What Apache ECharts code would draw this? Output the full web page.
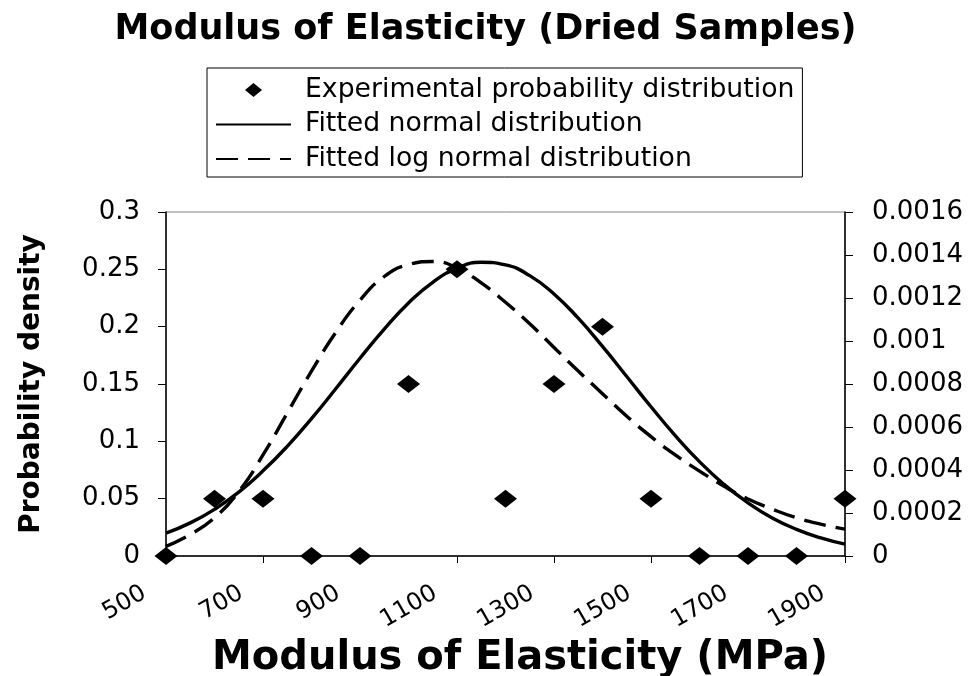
<!DOCTYPE html>
<html>
<head>
<meta charset="utf-8">
<script src="https://cdn.jsdelivr.net/npm/echarts@6/dist/echarts.min.js"></script>
<style>
html,body{margin:0;padding:0;background:#fff;}
#chart{width:971px;height:676px;}
</style>
</head>
<body>
<div id="chart"></div>
<script>
// ---- data ----
const titleText = 'Modulus of Elasticity (Dried Samples)';
const xAxisTitle = 'Modulus of Elasticity (MPa)';
const yAxisTitle = 'Probability density';
const seriesNames = ['Experimental probability distribution', 'Fitted normal distribution', 'Fitted log normal distribution'];

// experimental points (left axis)
const expX = [500, 600, 700, 800, 900, 1000, 1100, 1200, 1300, 1400, 1500, 1600, 1700, 1800, 1900];
const expY = [0, 0.05, 0.05, 0, 0, 0.15, 0.25, 0.05, 0.15, 0.2, 0.05, 0, 0, 0, 0.05];

// fitted curves (right axis), read every 50 MPa
const curveX = [500, 550, 600, 650, 700, 750, 800, 850, 900, 950, 1000, 1050, 1100, 1150, 1200,
                1250, 1300, 1350, 1400, 1450, 1500, 1550, 1600, 1650, 1700, 1750, 1800, 1850, 1900];
const normalY = [0.000106, 0.000154, 0.000217, 0.000297, 0.000396, 0.000510, 0.000639, 0.000778, 0.000920, 0.001055,
                 0.001177, 0.001273, 0.001338, 0.001366, 0.001354, 0.001304, 0.001219, 0.001106, 0.000975, 0.000835,
                 0.000694, 0.000560, 0.000439, 0.000334, 0.000247, 0.000177, 0.000124, 0.000084, 0.000055];
const logNormalY = [0.000045, 0.000100, 0.000178, 0.000300, 0.000470, 0.000665, 0.000860, 0.001040, 0.001190, 0.001300,
                    0.001355, 0.001370, 0.001340, 0.001270, 0.001180, 0.001080, 0.000970, 0.000860, 0.000755, 0.000650,
                    0.000555, 0.000470, 0.000395, 0.000325, 0.000265, 0.000218, 0.000178, 0.000148, 0.000125];

// axis ranges
const xRange = [500, 1900, 200];
const leftRange = [0, 0.3, 0.05];
const rightRange = [0, 0.0016, 0.0002];

// ---- build chart ----
const FONT = 'DejaVu Sans';
const chart = echarts.init(document.getElementById('chart'), null, {renderer: 'canvas'});

const expData = expX.map((x, i) => [x, expY[i]]);
const normalData = curveX.map((x, i) => [x, normalY[i]]);
const logData = curveX.map((x, i) => [x, logNormalY[i]]);

const diamondIcon = 'path://M8.5,0 L17,7 L8.5,14 L0,7 Z';
const hiddenMarker = {color: 'rgba(0,0,0,0)', borderColor: 'rgba(0,0,0,0)', borderWidth: 0};

const option = {
  backgroundColor: '#ffffff',
  animation: false,
  title: {
    text: titleText,
    left: 'center',
    top: 7,
    textStyle: {fontFamily: FONT, fontSize: 35, fontWeight: 'bold', color: '#000'}
  },
  legend: {
    orient: 'vertical',
    left: 207,
    top: 68,
    padding: [8, 8, 4, 8],
    itemGap: 6.5,
    itemWidth: 75,
    itemHeight: 14,
    itemTextGap: 15,
    symbolKeepAspect: true,
    borderColor: '#000',
    borderWidth: 1,
    textStyle: {fontFamily: FONT, fontSize: 26.7, color: '#000', lineHeight: 28, padding: [0, 0, 0, 9]},
    data: [
      {name: seriesNames[0], icon: diamondIcon},
      {name: seriesNames[1], itemStyle: hiddenMarker},
      {name: seriesNames[2], itemStyle: hiddenMarker}
    ]
  },
  grid: {
    left: 166, right: 126, top: 212, bottom: 120,
    outerBoundsMode: 'none',
    containLabel: false,
    show: true, borderColor: '#808080', borderWidth: 1, backgroundColor: 'transparent'
  },
  xAxis: {
    type: 'value',
    min: xRange[0], max: xRange[1], interval: xRange[2],
    name: xAxisTitle,
    nameLocation: 'middle',
    nameGap: 74,
    nameTextStyle: {fontFamily: FONT, fontSize: 40, fontWeight: 'bold', color: '#000', padding: [0, 0, 0, 29]},
    axisLine: {show: true, lineStyle: {color: '#000', width: 1.5}},
    axisTick: {show: true, inside: false, length: 7, lineStyle: {color: '#000'}},
    splitLine: {show: false},
    axisLabel: {
      rotate: 30, margin: 23, padding: [0, 25, 0, 0],
      fontFamily: FONT, fontSize: 24, color: '#000',
      formatter: v => String(v)
    }
  },
  yAxis: [
    {
      type: 'value', position: 'left',
      min: leftRange[0], max: leftRange[1], interval: leftRange[2],
      name: yAxisTitle,
      nameLocation: 'middle',
      nameGap: 120,
      nameTextStyle: {fontFamily: FONT, fontSize: 28, fontWeight: 'bold', color: '#000'},
      axisLine: {show: true, lineStyle: {color: '#000', width: 1.5}},
      axisTick: {show: true, inside: false, length: 8, lineStyle: {color: '#000'}},
      splitLine: {show: false},
      axisLabel: {margin: 26, fontFamily: FONT, fontSize: 26, color: '#000'}
    },
    {
      type: 'value', position: 'right',
      min: rightRange[0], max: rightRange[1], interval: rightRange[2],
      axisLine: {show: true, lineStyle: {color: '#000', width: 1.5}},
      axisTick: {show: true, inside: false, length: 8, lineStyle: {color: '#000'}},
      splitLine: {show: false},
      axisLabel: {margin: 27, fontFamily: FONT, fontSize: 26, color: '#000'}
    }
  ],
  series: [
    {
      name: seriesNames[1],
      type: 'line',
      yAxisIndex: 1,
      data: normalData,
      smooth: true,
      symbol: 'none',
      lineStyle: {color: '#000', width: 3.4, type: 'solid'},
      itemStyle: {color: '#000'},
      z: 2
    },
    {
      name: seriesNames[2],
      type: 'line',
      yAxisIndex: 1,
      data: logData,
      smooth: true,
      symbol: 'none',
      lineStyle: {color: '#000', width: 3.4, type: [22, 10]},
      itemStyle: {color: '#000'},
      z: 2
    },
    {
      name: seriesNames[0],
      type: 'scatter',
      yAxisIndex: 0,
      data: expData,
      symbol: 'diamond',
      symbolSize: [23, 18],
      itemStyle: {color: '#000', opacity: 1},
      z: 3
    }
  ]
};
chart.setOption(option);
</script>
</body>
</html>
